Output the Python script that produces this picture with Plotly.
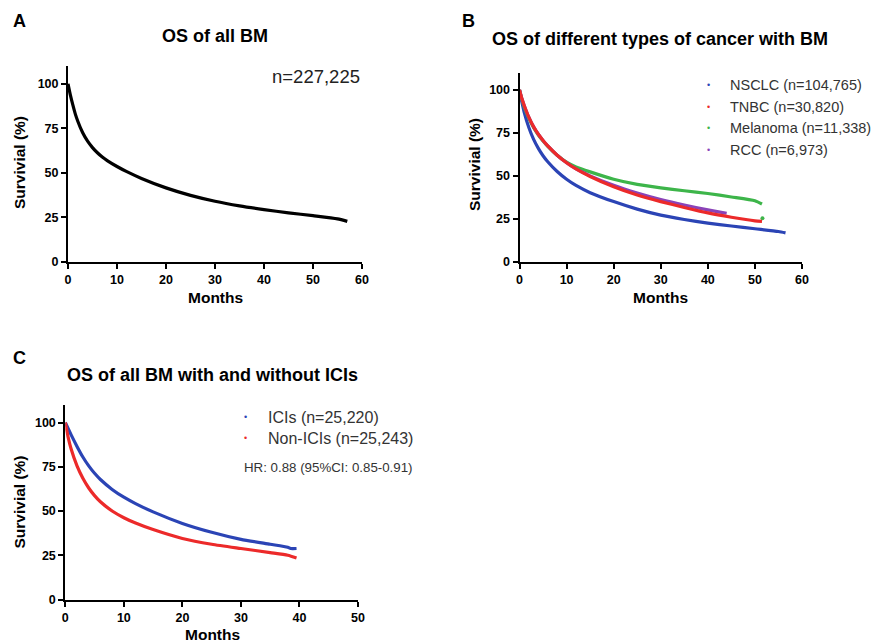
import plotly.graph_objects as go

# page is 882x643; the browser body adds an 8px margin, so the figure is offset by 8px
OFF = 8
W, H = 882 - OFF, 643 - OFF

# ---------------- data ----------------
# Panel A: OS of all BM
a_months = [0, 0.5, 1, 1.5, 2, 3, 4, 5, 6, 7, 8, 10, 12, 15, 20, 25, 30, 35, 40, 45, 50, 55, 57]
a_surv = [100, 93.5, 88, 83, 79, 72.5, 67.8, 64.2, 61.3, 58.9, 56.9, 53.6, 50.7, 46.9, 41.6, 37.4, 34.1, 31.5, 29.4, 27.6, 26, 24.2, 22.8]

# Panel B: different cancer types
nsclc_m = [0, 0.5, 1, 2, 3, 4, 5, 6, 8, 10, 12, 15, 20, 25, 30, 35, 40, 45, 50, 55, 56.5]
nsclc_s = [100, 93, 87, 78, 71.2, 66, 61.7, 58.2, 52.5, 48, 44.4, 40.2, 35, 30.6, 27.1, 24.6, 22.5, 20.8, 19.2, 17.6, 16.8]
tnbc_m = [0, 0.5, 1, 2, 3, 4, 5, 6, 8, 10, 12, 15, 20, 25, 30, 35, 40, 45, 50, 51.5]
tnbc_s = [100, 95, 91, 84, 78.5, 74.2, 70.6, 67.4, 62, 57.6, 54, 49.6, 43.6, 38.8, 35, 31.6, 28.4, 25.9, 23.8, 23.5]
mel_m = [0, 0.5, 1, 2, 3, 4, 5, 6, 8, 10, 12, 15, 20, 25, 30, 35, 40, 45, 50, 51.5]
mel_s = [100, 94.5, 90, 83.3, 78, 73.8, 70.3, 67.2, 62, 58, 55.2, 52.3, 48, 45, 43, 41.3, 39.7, 37.7, 35.5, 33.6]
mel_tail_m = [51.6]
mel_tail_s = [25.3]
rcc_m = [0, 0.5, 1, 2, 3, 4, 5, 6, 8, 10, 12, 15, 20, 25, 30, 35, 40, 44]
rcc_s = [100, 95, 91, 84, 78.5, 74.2, 70.6, 67.4, 62, 57.6, 54, 50, 44.5, 40, 36.2, 33, 30.2, 28.2]

# Panel C: with / without ICIs
ici_m = [0, 0.5, 1, 2, 3, 4, 5, 6, 8, 10, 12, 15, 20, 25, 30, 35, 38, 38.5, 39.5]
ici_s = [100, 96.5, 93, 86.5, 80.5, 75.5, 71.3, 67.8, 62.2, 57.8, 54.2, 49.5, 43, 38, 34, 31.2, 29.5, 28.8, 28.8]
non_m = [0, 0.5, 1, 2, 3, 4, 5, 6, 8, 10, 12, 15, 20, 25, 30, 35, 38, 39.5]
non_s = [100, 91.5, 85, 75.5, 68.5, 63, 58.7, 55.2, 50, 46.2, 43.2, 39.5, 34.5, 31.2, 28.8, 26.5, 25, 23.5]

legend_b = ["NSCLC (n=104,765)", "TNBC (n=30,820)", "Melanoma (n=11,338)", "RCC (n=6,973)"]
legend_c = ["ICIs (n=25,220)", "Non-ICIs (n=25,243)"]

BLUE = "#2B44B5"
RED = "#EC2A2A"
GREEN = "#3DB54A"
PURPLE = "#8A43B8"
FONT = "Arial, Liberation Sans, sans-serif"


def px_x(p):
    return (p - OFF) / W


def px_y(p):
    return 1 - (p - OFF) / H


fig = go.Figure()

line_w = 3.2
LS = dict(shape="spline", smoothing=0.6)
fig.add_trace(go.Scatter(x=a_months, y=a_surv, mode="lines", line=dict(color="black", width=line_w, **LS),
                         xaxis="x", yaxis="y", showlegend=False))

fig.add_trace(go.Scatter(x=nsclc_m, y=nsclc_s, mode="lines", line=dict(color=BLUE, width=line_w, **LS),
                         xaxis="x2", yaxis="y2", showlegend=False))
fig.add_trace(go.Scatter(x=mel_m, y=mel_s, mode="lines", line=dict(color=GREEN, width=line_w, **LS),
                         xaxis="x2", yaxis="y2", showlegend=False))
fig.add_trace(go.Scatter(x=mel_tail_m, y=mel_tail_s, mode="markers", marker=dict(color=GREEN, size=4),
                         xaxis="x2", yaxis="y2", showlegend=False))
fig.add_trace(go.Scatter(x=rcc_m, y=rcc_s, mode="lines", line=dict(color=PURPLE, width=line_w, **LS),
                         xaxis="x2", yaxis="y2", showlegend=False))
fig.add_trace(go.Scatter(x=tnbc_m, y=tnbc_s, mode="lines", line=dict(color=RED, width=line_w, **LS),
                         xaxis="x2", yaxis="y2", showlegend=False))

fig.add_trace(go.Scatter(x=ici_m, y=ici_s, mode="lines", line=dict(color=BLUE, width=line_w, **LS),
                         xaxis="x3", yaxis="y3", showlegend=False))
fig.add_trace(go.Scatter(x=non_m, y=non_s, mode="lines", line=dict(color=RED, width=line_w, **LS),
                         xaxis="x3", yaxis="y3", showlegend=False))

axis_common = dict(showline=True, linecolor="black", linewidth=2, ticks="outside", ticklen=5, tickwidth=2,
                   tickcolor="black", showgrid=False, zeroline=False, automargin=False,
                   tickfont=dict(family=FONT, size=12.5, color="black", weight="bold"))

fig.update_layout(
    template="none",
    width=W, height=H, margin=dict(l=0, r=0, t=0, b=0, pad=0, autoexpand=False),
    paper_bgcolor="white", plot_bgcolor="white", showlegend=False,
    xaxis=dict(domain=[px_x(68), px_x(362)], range=[0, 60], tickvals=[0, 10, 20, 30, 40, 50, 60], anchor="y", **axis_common),
    yaxis=dict(domain=[px_y(262), px_y(66)], range=[0, 110], tickvals=[0, 25, 50, 75, 100], anchor="x", **axis_common),
    xaxis2=dict(domain=[px_x(519.5), px_x(802)], range=[0, 60], tickvals=[0, 10, 20, 30, 40, 50, 60], anchor="y2", **axis_common),
    yaxis2=dict(domain=[px_y(261.7), px_y(72.8)], range=[0, 110], tickvals=[0, 25, 50, 75, 100], anchor="x2", **axis_common),
    xaxis3=dict(domain=[px_x(65.3), px_x(358)], range=[0, 50], tickvals=[0, 10, 20, 30, 40, 50], anchor="y3", **axis_common),
    yaxis3=dict(domain=[px_y(599.5), px_y(404.8)], range=[0, 110], tickvals=[0, 25, 50, 75, 100], anchor="x3", **axis_common),
)

ann = []


def text(x, y, s, size, bold=False, xanchor="center", yanchor="middle", angle=0, color="black"):
    ann.append(dict(x=px_x(x), y=px_y(y), xref="paper", yref="paper", text=s, showarrow=False,
                    xanchor=xanchor, yanchor=yanchor, textangle=angle,
                    font=dict(family=FONT, size=size, color=color, weight="bold" if bold else "normal")))


# panel letters
text(19, 21, "A", 18, True)
text(468, 21, "B", 18, True)
text(19, 358, "C", 18, True)

# titles
text(215, 36.5, "OS of all BM", 18, True)
text(660, 38.5, "OS of different types of cancer with BM", 18, True)
text(212, 375, "OS of all BM with and without ICIs", 18, True)

# axis titles
text(215, 297.5, "Months", 15.5, True)
text(19, 163, "Survivial (%)", 15.5, True, angle=-90)
text(660, 297, "Months", 15.5, True)
text(474, 164, "Survivial (%)", 15.5, True, angle=-90)
text(212, 634, "Months", 15.5, True)
text(18.5, 502, "Survivial (%)", 15.5, True, angle=-90)

# n label panel A
text(362, 77, "n=227,225", 18.5, False, xanchor="right", color="#222222")

# legend B
for i, (lab, col) in enumerate(zip(legend_b, [BLUE, RED, GREEN, PURPLE])):
    yy = 85 + i * 21.7
    text(708, yy, "•", 9, False, color=col)
    text(728, yy, lab, 14.5, False, xanchor="left", color="#333333")

# legend C
for i, (lab, col) in enumerate(zip(legend_c, [BLUE, RED])):
    yy = 417 + i * 21
    text(245, yy, "•", 9, False, color=col)
    text(266, yy, lab, 16, False, xanchor="left", color="#333333")
text(242, 467, "HR: 0.88 (95%CI: 0.85-0.91)", 13.3, False, xanchor="left", color="#333333")

fig.update_layout(annotations=ann)
fig.write_html("out.html")
